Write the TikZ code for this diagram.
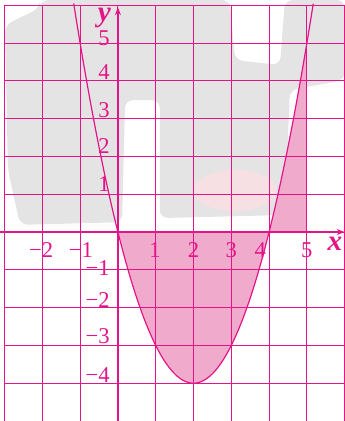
\documentclass[tikz,border=0pt]{standalone}
\usepackage{fontspec}
\setmainfont{Liberation Serif}
\usetikzlibrary{arrows.meta}
\definecolor{mag}{RGB}{228,20,136}
\definecolor{pinkfill}{RGB}{240,170,204}
\definecolor{wm}{RGB}{228,228,228}
\definecolor{wmpink}{RGB}{246,224,228}
\begin{document}
\begin{tikzpicture}[x=1cm,y=1cm,
  gridline/.style={mag, line width=0.75pt},
  axisline/.style={mag, line width=0.9pt, -{Stealth[length=6pt,width=4.5pt]}},
  curve/.style={mag, line width=0.9pt},
  lbl/.style={text=mag, font=\fontsize{17}{17}\selectfont, inner sep=0pt},
  axlbl/.style={text=mag, font=\fontsize{22}{22}\selectfont\bfseries\itshape, inner sep=0pt, text height=1.6ex, text depth=0.5ex}]
\useasboundingbox (-3.12,-5.0) rectangle (6.0,6.14);
% faint watermark background
\fill[wm, rounded corners=6pt] (-2.99,5.48) -- (-2.06,5.93) -- (-2.06,6.14) -- (2.96,6.14)
  -- (3.10,4.55) -- (4.29,4.42) -- (4.42,6.14) -- (6.0,6.14) -- (6.0,4.02)
  -- (4.55,3.76) -- (4.42,0.45) -- (1.11,0.37) -- (1.11,3.49) -- (0.19,3.49)
  -- (0.11,0.26) -- (-2.59,0.19) -- (-2.91,1.64) -- cycle;
\fill[wmpink] (3.1,1.1) ellipse (1.1 and 0.55);
% shaded regions
\fill[pinkfill] (0,0) -- plot[domain=0:4, samples=80] (\x,{\x*\x-4*\x}) -- cycle;
\fill[pinkfill] (4,0) -- plot[domain=4:5, samples=30] (\x,{\x*\x-4*\x}) -- (5,0) -- cycle;
% grid
\draw[gridline] (-3,-5) grid (6,6);
% axes
\coordinate (xl) at (-3.12,0);
\coordinate (xr) at (6.0,0);
\coordinate (yb) at (0,-5.0);
\coordinate (yt) at (0,5.95);
\draw[axisline] (xl) -- (xr);
\draw[axisline] (yb) -- (yt);
% parabola
\draw[curve] plot[domain=-1.17:5.17, samples=120] (\x,{\x*\x-4*\x});
% axis labels
\node[axlbl] (xlab) at (5.74,-0.40) {x};
\node[axlbl] (ylab) at (-0.36,5.66) {y};
% x tick labels
\node[lbl] (xm2) at (-2.03,-0.48) {−2};
\node[lbl] (xm1) at (-0.98,-0.48) {−1};
\node[lbl] (x1) at (0.98,-0.48) {1};
\node[lbl] (x2) at (2.0,-0.48) {2};
\node[lbl] (x3) at (3.0,-0.48) {3};
\node[lbl] (x4) at (3.77,-0.48) {4};
\node[lbl] (x5) at (5.0,-0.48) {5};
% y tick labels
\node[lbl, anchor=east] (y5) at (-0.21,5.13) {5};
\node[lbl, anchor=east] (y4) at (-0.21,4.23) {4};
\node[lbl, anchor=east] (y3) at (-0.21,3.23) {3};
\node[lbl, anchor=east] (y2) at (-0.21,2.28) {2};
\node[lbl, anchor=east] (y1) at (-0.21,1.27) {1};
\node[lbl, anchor=east] (ym1) at (-0.21,-0.95) {−1};
\node[lbl, anchor=east] (ym2) at (-0.21,-1.80) {−2};
\node[lbl, anchor=east] (ym3) at (-0.21,-2.75) {−3};
\node[lbl, anchor=east] (ym4) at (-0.21,-3.78) {−4};
\end{tikzpicture}
\end{document}
